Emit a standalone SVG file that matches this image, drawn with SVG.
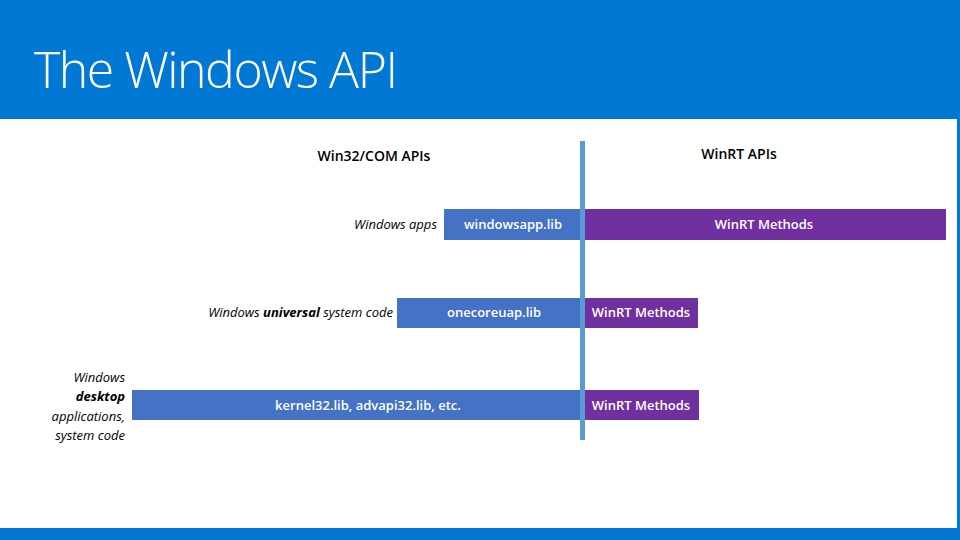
<svg xmlns="http://www.w3.org/2000/svg" width="960" height="540" viewBox="0 0 960 540">
<style>
.t{font-family:"Open Sans","Liberation Sans",sans-serif;font-size:13px;fill:#000}
.w{font-family:"Open Sans","Liberation Sans",sans-serif;font-size:13px;fill:#fff;font-weight:600;text-anchor:middle}
.h{font-family:"Open Sans","Liberation Sans",sans-serif;font-size:14px;font-weight:600;text-anchor:middle}
.i{font-style:italic;text-anchor:end}
.b{fill:#4472C4}.p{fill:#7030A0}
</style>
<rect width="960" height="540" fill="#0078D4"/>
<rect x="0" y="119" width="957" height="409" fill="#fff"/>
<text x="34" y="88" font-family="'Open Sans','Liberation Sans',sans-serif" font-size="50" font-weight="300" fill="#fff" letter-spacing="-1.5">The Windows API</text>
<text class="h" x="374" y="161">Win32/COM APIs</text>
<text class="h" x="739" y="159">WinRT APIs</text>
<g id="row1">
<text class="t i" x="437" y="229">Windows apps</text>
<rect class="b" x="444" y="209" width="138" height="31"/>
<text class="w" x="513" y="229">windowsapp.lib</text>
<rect class="p" x="582" y="209" width="364" height="31"/>
<text class="w" x="764" y="229">WinRT Methods</text>
</g>
<g id="row2">
<text class="t i" x="393" y="317">Windows <tspan font-weight="bold">universal</tspan> system code</text>
<rect class="b" x="397" y="298" width="185" height="30"/>
<text class="w" x="494" y="317">onecoreuap.lib</text>
<rect class="p" x="582" y="298" width="116" height="30"/>
<text class="w" x="641" y="317">WinRT Methods</text>
</g>
<g id="row3">
<text class="t i" x="125" y="382">Windows</text>
<text class="t i" x="125" y="401" font-weight="bold">desktop</text>
<text class="t i" x="125" y="421">applications,</text>
<text class="t i" x="125" y="440">system code</text>
<rect class="b" x="132" y="390" width="450" height="30"/>
<text class="w" x="368" y="410">kernel32.lib, advapi32.lib, etc.</text>
<rect class="p" x="582" y="390" width="117" height="30"/>
<text class="w" x="641" y="410">WinRT Methods</text>
</g>
<g id="connectors">
<rect x="580" y="141" width="5" height="299" fill="#5B9BD5"/>
</g>
</svg>
